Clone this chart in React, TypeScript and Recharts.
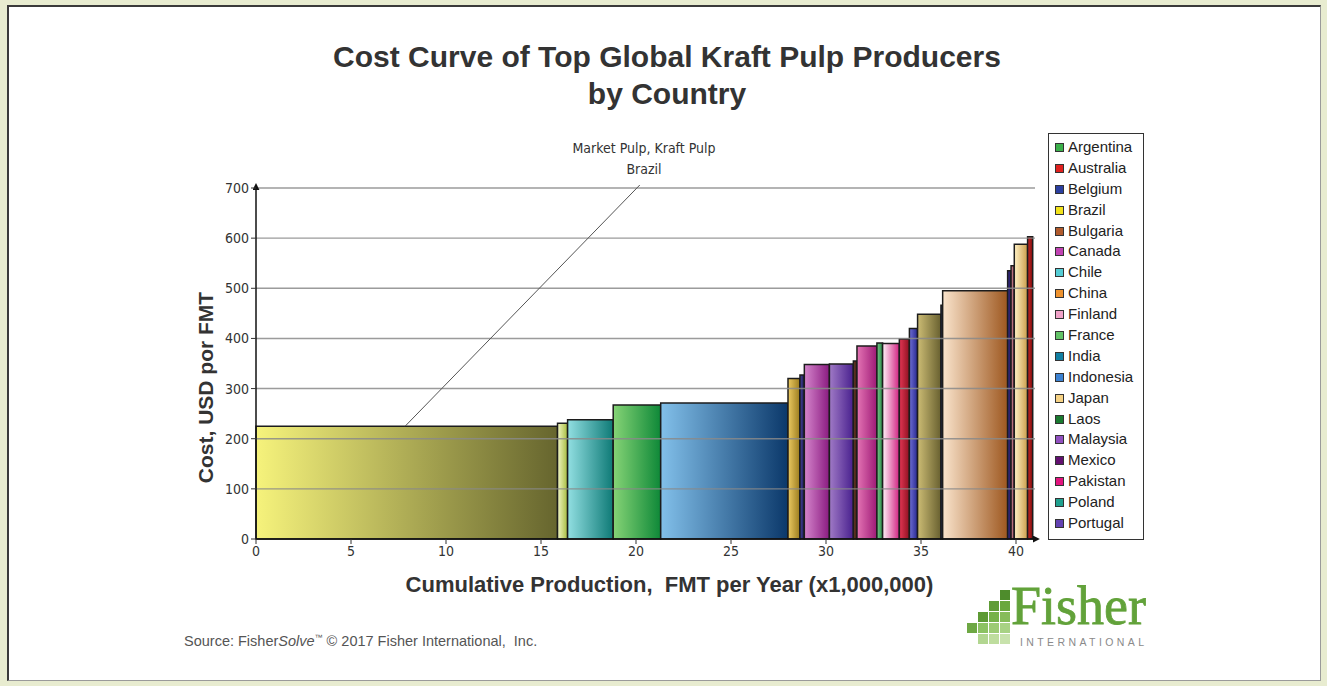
import {
  ComposedChart,
  XAxis,
  YAxis,
  ReferenceArea,
  ReferenceLine,
  ReferenceDot,
} from 'recharts';

// capacity of each step, million FMT per year
const barVolumes = [
  15.87, 0.53, 2.4, 2.5, 6.7, 0.63, 0.23, 1.32, 1.26, 0.19, 1.05,
  0.3, 0.88, 0.53, 0.43, 1.23, 0.09, 3.42, 0.18, 0.17, 0.7, 0.27,
];
// cash cost, USD per FMT
const barCosts = [
  225, 231, 238, 267, 271, 320, 327, 348, 349, 355, 385,
  391, 390, 399, 420, 448, 466, 495, 535, 545, 588, 603,
];
// gradient of each step, left (light) to right (dark)
const barLight = [
  '#f6f37c', '#f2f6c4', '#92dfe2', '#86d476', '#82c0ea', '#ecca62', '#44449a', '#d586cc',
  '#a07ac6', '#6e3e2c', '#e474b4', '#78c888', '#fff2f8', '#e43654', '#6e6ed4', '#ccbc74',
  '#34448a', '#fae4cc', '#403696', '#d88898', '#fff2c6', '#c82424',
];
const barDark = [
  '#66652e', '#a6bc3e', '#0e7a76', '#0e8838', '#0b386a', '#9c7c1e', '#1a1a52', '#8a1a80',
  '#48208e', '#3a1a10', '#9e1a76', '#2a8a4a', '#d02282', '#8e1020', '#282890', '#686030',
  '#102052', '#9e5820', '#1a1052', '#8e4e5e', '#cc9e4c', '#7e1010',
];

const legendCountries = [
  'Argentina', 'Australia', 'Belgium', 'Brazil', 'Bulgaria', 'Canada', 'Chile',
  'China', 'Finland', 'France', 'India', 'Indonesia', 'Japan', 'Laos',
  'Malaysia', 'Mexico', 'Pakistan', 'Poland', 'Portugal',
];
const legendColors = [
  '#3bb04a', '#e0201e', '#2b3fa0', '#f2e21a', '#b05a2c', '#c042b2', '#54ccd4',
  '#ee922e', '#f0a2c8', '#62c266', '#117fa2', '#3c82d2', '#f6d284', '#1a7a30',
  '#9050c0', '#621070', '#e2147e', '#1fa08e', '#6242b2',
];

const xTicks = [0, 5, 10, 15, 20, 25, 30, 35, 40];
const yTicks = [0, 100, 200, 300, 400, 500, 600, 700];

const annotationLines = ['Market Pulp, Kraft Pulp', 'Brazil'];

const barStarts = barVolumes.map((_, i) =>
  barVolumes.slice(0, i).reduce((a, b) => a + b, 0)
);
const bars = barVolumes.map((v, i) => ({
  x1: barStarts[i],
  x2: barStarts[i] + v,
  cost: barCosts[i],
}));

const W = 1327;
const H = 686;
const sans = '"Liberation Sans", Arial, Helvetica, sans-serif';
const narrow = '"Liberation Sans Narrow", "Arial Narrow", "DejaVu Sans Condensed", sans-serif';

function YTitle({ viewBox }: any) {
  const cx = viewBox.x + 9;
  const cy = viewBox.y + viewBox.height / 2 + 24;
  return (
    <text
      x={cx}
      y={cy}
      transform={`rotate(-90, ${cx}, ${cy})`}
      textAnchor="middle"
      dominantBaseline="central"
      fontFamily={sans}
      fontWeight="bold"
      fontSize={21}
      fill="#333"
    >
      Cost, USD por FMT
    </text>
  );
}

function XTitle({ viewBox }: any) {
  return (
    <text
      x={viewBox.x + viewBox.width / 2 + 24}
      y={viewBox.y + 53}
      textAnchor="middle"
      fontFamily={sans}
      fontWeight="bold"
      fontSize={22}
      fill="#333"
    >
      Cumulative Production, &nbsp;FMT per Year (x1,000,000)
    </text>
  );
}

function Annotation({ viewBox }: any) {
  return (
    <text x={viewBox.x} y={viewBox.y} textAnchor="middle" fontFamily={narrow} fontSize={14} fill="#333">
      <tspan x={viewBox.x} dy={-5}>{annotationLines[0]}</tspan>
      <tspan x={viewBox.x} dy={21}>{annotationLines[1]}</tspan>
    </text>
  );
}

// little stepped block mark next to the logo word
const logoBlocks = [
  [3, 0, '#4e8c2c'], [2, 1, '#5f9c36'], [3, 1, '#6aa83e'], [1, 2, '#5d9a34'],
  [2, 2, '#76b24a'], [3, 2, '#86bc5a'], [0, 3, '#6ea844'], [1, 3, '#8cc262'],
  [2, 3, '#9ccb74'], [3, 3, '#a8d284'], [1, 4, '#b2d690'], [2, 4, '#bedd9e'],
  [3, 4, '#c8e2ac'],
];

function Logo() {
  return (
    <div style={{ position: 'absolute', left: 966, top: 586 }}>
      <svg width={48} height={64} style={{ position: 'absolute', left: 0, top: 0 }}>
        {logoBlocks.map(([c, r, col], i) => (
          <rect key={i} x={(c as number) * 11 + 1} y={(r as number) * 11 + 4} width={10} height={10} fill={col as string} />
        ))}
      </svg>
      <div
        style={{
          position: 'absolute',
          left: 45,
          top: -7,
          fontFamily: '"Liberation Serif", "Times New Roman", serif',
          fontSize: 54,
          color: '#62a23a',
          lineHeight: '54px',
          whiteSpace: 'nowrap',
          WebkitTextStroke: '0.8px #62a23a',
        }}
      >
        Fisher
      </div>
      <div
        style={{
          position: 'absolute',
          left: 54,
          top: 50,
          fontFamily: sans,
          fontSize: 10.5,
          letterSpacing: 3.4,
          color: '#8a8a8a',
          whiteSpace: 'nowrap',
        }}
      >
        INTERNATIONAL
      </div>
    </div>
  );
}

function LegendBox() {
  return (
    <div
      style={{
        position: 'absolute',
        left: 1048,
        top: 133,
        width: 96,
        height: 407,
        border: '1px solid #333',
        boxSizing: 'border-box',
        background: '#fff',
        paddingTop: 3,
      }}
    >
      {legendCountries.map((name, i) => (
        <div key={name} style={{ position: 'relative', height: 20.9, lineHeight: '20.9px' }}>
          <span
            style={{
              position: 'absolute',
              left: 6,
              top: 6,
              width: 9,
              height: 9,
              boxSizing: 'border-box',
              border: '1px solid #333',
              background: legendColors[i],
            }}
          />
          <span
            style={{
              position: 'absolute',
              left: 19,
              top: 0,
              fontFamily: sans,
              fontSize: 15,
              color: '#222',
              whiteSpace: 'nowrap',
            }}
          >
            {name}
          </span>
        </div>
      ))}
    </div>
  );
}

export default function App() {
  return (
    <div
      style={{
        position: 'fixed',
        left: 0,
        top: 0,
        width: W,
        height: H,
        background: '#e8ecd0',
        overflow: 'hidden',
      }}
    >
      <div
        style={{
          position: 'absolute',
          left: 7,
          top: 5,
          width: 1314,
          height: 676,
          background: '#fff',
          borderTop: '2px solid #3a3a3a',
          borderLeft: '2px solid #3a3a3a',
          borderRight: '1px solid #9a9a9a',
          borderBottom: '1px solid #9a9a9a',
          boxSizing: 'border-box',
        }}
      />
      <div
        style={{
          position: 'absolute',
          left: 0,
          top: 38,
          width: 1334,
          textAlign: 'center',
          fontFamily: sans,
          fontWeight: 'bold',
          fontSize: 30,
          lineHeight: '37px',
          color: '#333',
        }}
      >
        Cost Curve of Top Global Kraft Pulp Producers
        <br />
        by Country
      </div>

      <div style={{ position: 'absolute', left: 0, top: 0 }}>
        <ComposedChart
          width={W}
          height={H}
          data={bars}
          margin={{ top: 188, right: 292, bottom: 117, left: 196 }}
        >
          <defs>
            {bars.map((_, i) => (
              <linearGradient key={i} id={`bar${i}`} x1="0" y1="0" x2="1" y2="0">
                <stop offset="0%" stopColor={barLight[i]} />
                <stop offset="100%" stopColor={barDark[i]} />
              </linearGradient>
            ))}
            <marker
              id="axisArrow"
              viewBox="0 0 10 10"
              refX="3"
              refY="5"
              markerUnits="userSpaceOnUse"
              markerWidth="7"
              markerHeight="7"
              orient="auto-start-reverse"
            >
              <path d="M0,0 L10,5 L0,10 z" fill="#111" />
            </marker>
          </defs>

          {bars.map((b, i) => (
            <ReferenceArea
              key={`area${i}`}
              x1={b.x1}
              x2={b.x2}
              y1={0}
              y2={b.cost}
              fill={`url(#bar${i})`}
              fillOpacity={1}
              stroke="#1c1c1c"
              strokeWidth={1.5}
              ifOverflow="visible"
            />
          ))}

          {yTicks.slice(1).map((t) => (
            <ReferenceLine
              key={`grid${t}`}
              y={t}
              stroke="#8a8a8a"
              strokeWidth={1.4}
              strokeOpacity={0.85}
              ifOverflow="visible"
            />
          ))}

          <ReferenceLine
            segment={[
              { x: 7.85, y: 225 },
              { x: 20.2, y: 706 },
            ]}
            stroke="#555"
            strokeWidth={1}
            ifOverflow="visible"
          />
          <ReferenceDot
            x={20.42}
            y={760}
            r={0}
            fill="none"
            stroke="none"
            ifOverflow="visible"
            label={<Annotation />}
          />

          <XAxis
            type="number"
            dataKey="x1"
            domain={[0, 41]}
            ticks={xTicks}
            allowDataOverflow
            height={30}
            tickSize={5}
            tickLine={{ stroke: '#333' }}
            axisLine={{ stroke: '#111', strokeWidth: 1.5, markerEnd: 'url(#axisArrow)' }}
            tick={{ fontFamily: narrow, fontSize: 14, fill: '#333' }}
            label={<XTitle />}
          />
          <YAxis
            type="number"
            domain={[0, 700]}
            ticks={yTicks}
            allowDataOverflow
            width={60}
            tickSize={5}
            tickLine={{ stroke: '#333' }}
            axisLine={{ stroke: '#111', strokeWidth: 1.5, markerStart: 'url(#axisArrow)' }}
            tick={{ fontFamily: narrow, fontSize: 14, fill: '#333' }}
            label={<YTitle />}
          />
        </ComposedChart>
      </div>

      <LegendBox />
      <Logo />

      <div
        style={{
          position: 'absolute',
          left: 184,
          top: 633,
          fontFamily: sans,
          fontSize: 14.5,
          color: '#555',
          whiteSpace: 'nowrap',
        }}
      >
        Source: Fisher<i>Solve</i>
        <sup style={{ fontSize: 8 }}>™</sup> © 2017 Fisher International, &nbsp;Inc.
      </div>
    </div>
  );
}
